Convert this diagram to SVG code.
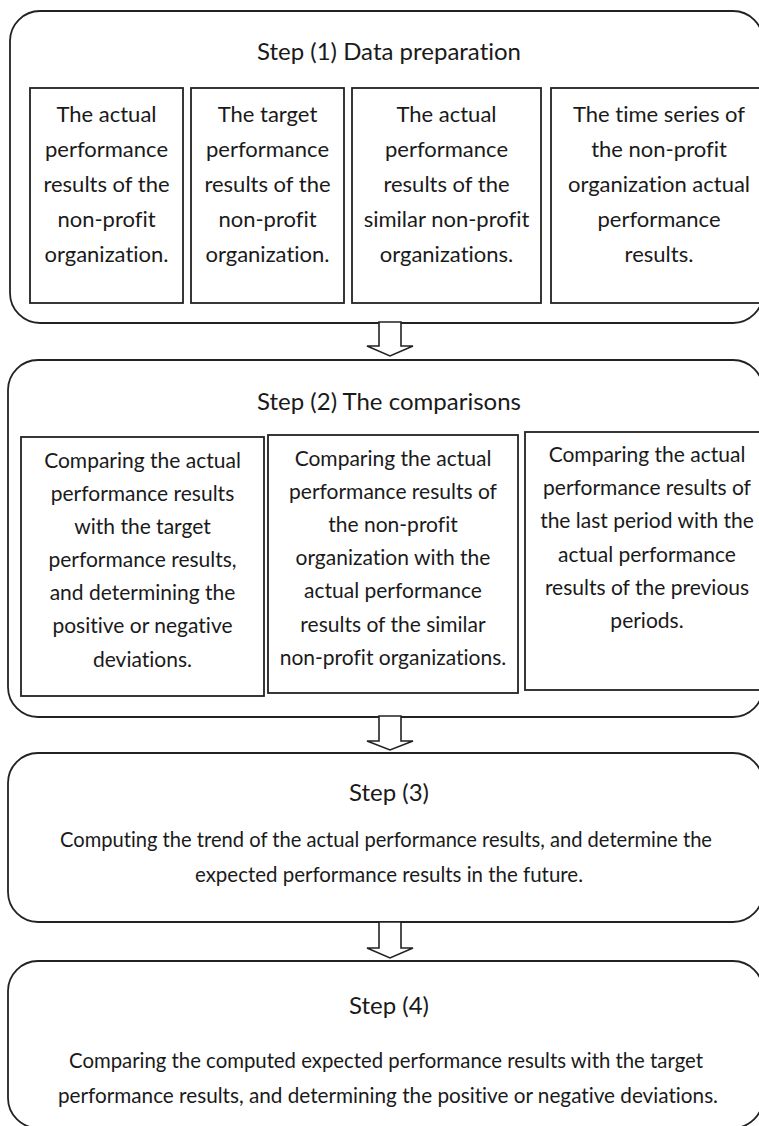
<svg xmlns="http://www.w3.org/2000/svg" width="759" height="1126" viewBox="0 0 759 1126">
<style>
.outer{fill:#fff;stroke:#222;stroke-width:1.8}
.inner{fill:#fff;stroke:#222;stroke-width:1.8}
.arrow{fill:#fff;stroke:#222;stroke-width:1.6;stroke-linejoin:miter}
text{font-family:Lato,"Open Sans",sans-serif;fill:#1a1a1a;text-anchor:middle;font-variant-ligatures:none}
.title{font-size:24px}
.body{font-size:22px}
.b2{font-size:21px}
.b3{font-size:21px}
</style>
<rect width="759" height="1126" fill="#fff"/>

<g id="step1">
<rect class="outer" x="10" y="11" width="753" height="312" rx="30" ry="30"/>
<text class="title" x="389" y="60">Step (1) Data preparation</text>
</g>
<g id="s1a">
<rect class="inner" x="30" y="88" width="153" height="215"/>
<text class="body" x="106.5" y="122">The actual</text>
<text class="body" x="106.5" y="157">performance</text>
<text class="body" x="106.5" y="192">results of the</text>
<text class="body" x="106.5" y="227">non-profit</text>
<text class="body" x="106.5" y="262">organization.</text>
</g>
<g id="s1b">
<rect class="inner" x="191" y="88" width="153" height="215"/>
<text class="body" x="267.5" y="122">The target</text>
<text class="body" x="267.5" y="157">performance</text>
<text class="body" x="267.5" y="192">results of the</text>
<text class="body" x="267.5" y="227">non-profit</text>
<text class="body" x="267.5" y="262">organization.</text>
</g>
<g id="s1c">
<rect class="inner" x="352" y="88" width="189" height="215"/>
<text class="body" x="446.5" y="122">The actual</text>
<text class="body" x="446.5" y="157">performance</text>
<text class="body" x="446.5" y="192">results of the</text>
<text class="body" x="446.5" y="227">similar non-profit</text>
<text class="body" x="446.5" y="262">organizations.</text>
</g>
<g id="s1d">
<rect class="inner" x="551" y="88" width="216" height="215"/>
<text class="body" x="659" y="122">The time series of</text>
<text class="body" x="659" y="157">the non-profit</text>
<text class="body" x="659" y="192">organization actual</text>
<text class="body" x="659" y="227">performance</text>
<text class="body" x="659" y="262">results.</text>
</g>

<g id="step2">
<rect class="outer" x="8" y="360" width="755" height="357" rx="30" ry="30"/>
<text class="title" x="389" y="410">Step (2) The comparisons</text>
</g>
<g id="s2a">
<rect class="inner" x="21" y="437" width="243" height="259"/>
<text class="b2" x="142.5" y="468">Comparing the actual</text>
<text class="b2" x="142.5" y="501">performance results</text>
<text class="b2" x="142.5" y="534">with the target</text>
<text class="b2" x="142.5" y="567">performance results,</text>
<text class="b2" x="142.5" y="600">and determining the</text>
<text class="b2" x="142.5" y="633">positive or negative</text>
<text class="b2" x="142.5" y="667">deviations.</text>
</g>
<g id="s2b">
<rect class="inner" x="268" y="435" width="250" height="258"/>
<text class="b2" x="393" y="466">Comparing the actual</text>
<text class="b2" x="393" y="499">performance results of</text>
<text class="b2" x="393" y="532">the non-profit</text>
<text class="b2" x="393" y="565">organization with the</text>
<text class="b2" x="393" y="598">actual performance</text>
<text class="b2" x="393" y="632">results of the similar</text>
<text class="b2" x="393" y="665">non-profit organizations.</text>
</g>
<g id="s2c">
<rect class="inner" x="525" y="432" width="244" height="258"/>
<text class="b2" x="647" y="462">Comparing the actual</text>
<text class="b2" x="647" y="495">performance results of</text>
<text class="b2" x="647" y="528">the last period with the</text>
<text class="b2" x="647" y="562">actual performance</text>
<text class="b2" x="647" y="595">results of the previous</text>
<text class="b2" x="647" y="628">periods.</text>
</g>

<g id="step3">
<rect class="outer" x="8" y="753" width="755" height="169" rx="30" ry="30"/>
<text class="title" x="389" y="801">Step (3)</text>
<text class="b3" x="386" y="847" textLength="652" lengthAdjust="spacingAndGlyphs">Computing the trend of the actual performance results, and determine the</text>
<text class="b3" x="389" y="882" textLength="388" lengthAdjust="spacingAndGlyphs">expected performance results in the future.</text>
</g>

<g id="step4">
<rect class="outer" x="8" y="961" width="755" height="167" rx="30" ry="30"/>
<text class="title" x="389" y="1014">Step (4)</text>
<text class="b3" x="386" y="1068" textLength="634" lengthAdjust="spacingAndGlyphs">Comparing the computed expected performance results with the target</text>
<text class="b3" x="388" y="1103" textLength="660" lengthAdjust="spacingAndGlyphs">performance results, and determining the positive or negative deviations.</text>
</g>

<g id="connectors">
<polygon class="arrow" points="379,322 401,322 401,346 413,346 390,356 367,346 379,346"/>
<polygon class="arrow" points="379,716 401,716 401,741 413,741 390,750 367,741 379,741"/>
<polygon class="arrow" points="379,922 401,922 401,948 413,948 390,958 367,948 379,948"/>
</g>
</svg>
